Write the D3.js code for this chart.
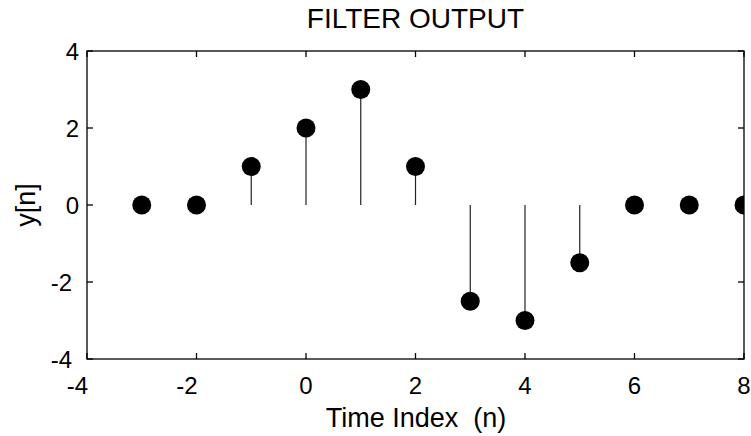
<!DOCTYPE html>
<html>
<head>
<meta charset="utf-8">
<script src="https://cdn.jsdelivr.net/npm/d3@7"></script>
<style>
  body { margin: 0; background: #fff; }
  text { font-family: "Liberation Sans", Arial, Helvetica, sans-serif; fill: #000; }
</style>
</head>
<body>
<script>
// sample index and filter output
var n = [-3, -2, -1, 0, 1, 2, 3, 4, 5, 6, 7, 8];
var yn = [0, 0, 1, 2, 3, 1, -2.5, -3, -1.5, 0, 0, 0];
var xTicks = [-4, -2, 0, 2, 4, 6, 8];
var yTicks = [-4, -2, 0, 2, 4];

var width = 751, height = 436;
var mLeft = 87, mRight = 744, mTop = 51, mBottom = 359;

var svg = d3.select("body").append("svg")
  .attr("width", width)
  .attr("height", height);

var x = d3.scaleLinear().domain([-4, 8]).range([mLeft, mRight]);
var y = d3.scaleLinear().domain([-4, 4]).range([mBottom, mTop]);

svg.append("clipPath").attr("id", "clip")
  .append("rect")
  .attr("x", mLeft).attr("y", mTop)
  .attr("width", mRight - mLeft).attr("height", mBottom - mTop);

var plot = svg.append("g").attr("clip-path", "url(#clip)");

// stems
plot.selectAll(".stem")
  .data(n.map(function(d, i) { return {n: d, v: yn[i]}; }).filter(function(d) { return d.v !== 0; }))
  .enter()
  .append("line")
  .attr("class", "stem")
  .attr("x1", function(d) { return x(d.n); })
  .attr("x2", function(d) { return x(d.n); })
  .attr("y1", y(0))
  .attr("y2", function(d) { return y(d.v); })
  .attr("stroke", "#222")
  .attr("stroke-width", 1.2);

// markers
plot.selectAll(".dot")
  .data(n)
  .enter()
  .append("circle")
  .attr("class", "dot")
  .attr("cx", function(d) { return x(d); })
  .attr("cy", function(d, i) { return y(yn[i]); })
  .attr("r", 9.5)
  .attr("fill", "#000");

// box with inward ticks, like matlab
var tl = 6;
var axes = svg.append("g").attr("stroke", "#000").attr("stroke-width", 1.3);
axes.append("rect")
  .attr("x", mLeft).attr("y", mTop)
  .attr("width", mRight - mLeft).attr("height", mBottom - mTop)
  .attr("fill", "none");

xTicks.forEach(function(t) {
  axes.append("line").attr("x1", x(t)).attr("x2", x(t)).attr("y1", mBottom).attr("y2", mBottom - tl);
  axes.append("line").attr("x1", x(t)).attr("x2", x(t)).attr("y1", mTop).attr("y2", mTop + tl);
});
yTicks.forEach(function(t) {
  axes.append("line").attr("x1", mLeft).attr("x2", mLeft + tl).attr("y1", y(t)).attr("y2", y(t));
  axes.append("line").attr("x1", mRight).attr("x2", mRight - tl).attr("y1", y(t)).attr("y2", y(t));
});

// tick labels
svg.selectAll(".xlab")
  .data(xTicks)
  .enter()
  .append("text")
  .attr("class", "xlab")
  .attr("x", function(d) { return d < 0 ? x(d) + 1 : x(d); })
  .attr("y", 394)
  .attr("text-anchor", function(d) { return d < 0 ? "end" : "middle"; })
  .style("font-size", "24px")
  .text(function(d) { return d; });

svg.selectAll(".ylab")
  .data(yTicks)
  .enter()
  .append("text")
  .attr("class", "ylab")
  .attr("x", function(d) { return d < 0 ? 72 : 79; })
  .attr("y", function(d) { return y(d) + 9; })
  .attr("text-anchor", "end")
  .style("font-size", "24px")
  .text(function(d) { return d; });

// titles
svg.append("text")
  .attr("x", 415.5).attr("y", 28)
  .attr("text-anchor", "middle")
  .style("font-size", "28px")
  .text("FILTER OUTPUT");

svg.append("text")
  .attr("x", 416).attr("y", 427)
  .attr("text-anchor", "middle")
  .style("font-size", "27px")
  .style("white-space", "pre")
  .attr("xml:space", "preserve")
  .text("Time Index  (n)");

svg.append("text")
  .attr("transform", "translate(35,205) rotate(-90)")
  .attr("text-anchor", "middle")
  .style("font-size", "27px")
  .text("y[n]");
</script>
</body>
</html>
